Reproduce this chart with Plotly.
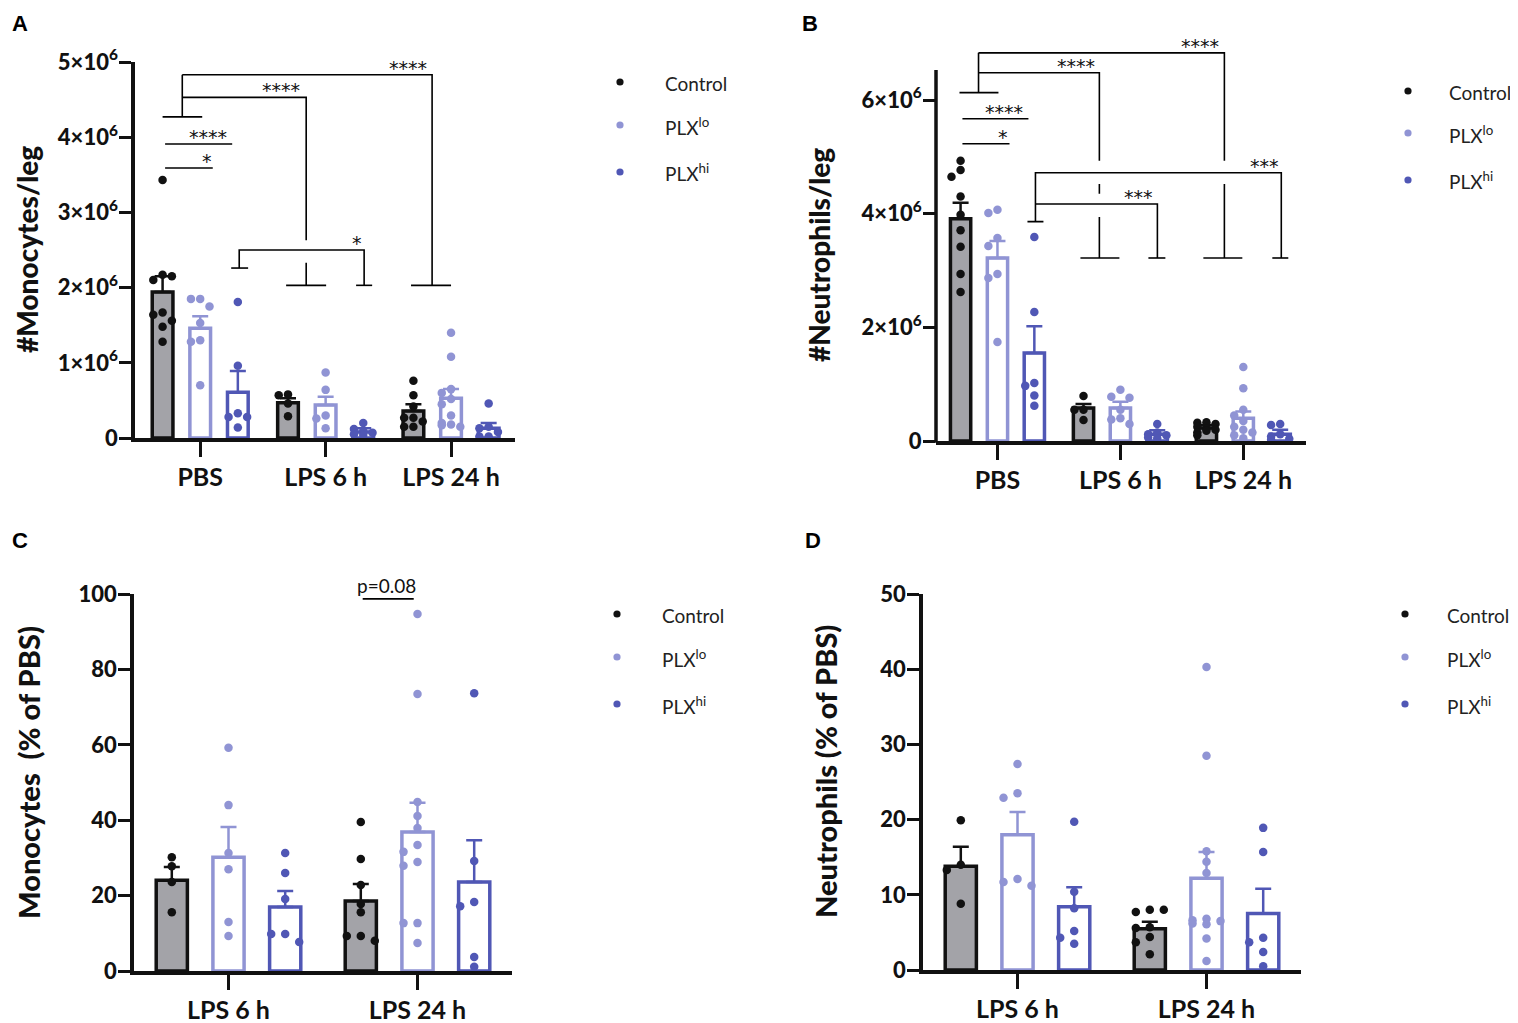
import numpy as np
import plotly.graph_objects as go

W, H = 1518, 1023
DX, DY = -8, -8   # page body margin shifts the figure by 8 px
FONT = 'Lato'
STAR_FONT = 'DejaVu Sans'

# ---- data (A, B in millions of cells; C, D in % of PBS) ----
conds = ['Control', 'PLX<sup>lo</sup>', 'PLX<sup>hi</sup>']
groups_ab = ['PBS', 'LPS 6 h', 'LPS 24 h']
groups_cd = ['LPS 6 h', 'LPS 24 h']

mono_mean = [[1.94, 0.47, 0.36], [1.46, 0.44, 0.53], [0.61, 0.08, 0.13]]
mono_sem = [[0.21, 0.06, 0.09], [0.16, 0.11, 0.12], [0.28, 0.05, 0.07]]
mono_pts = [
    [[3.43, 2.17, 2.10, 2.15, 1.67, 1.64, 1.56, 1.48, 1.28],
     [0.58, 0.57, 0.29, 0.46],
     [0.76, 0.57, 0.42, 0.27, 0.27, 0.15, 0.15, 0.22]],
    [[1.85, 1.85, 1.75, 1.53, 1.30, 1.28, 0.70],
     [0.87, 0.64, 0.30, 0.26, 0.13],
     [1.40, 1.08, 0.65, 0.60, 0.52, 0.45, 0.30, 0.20, 0.18, 0.15, 0.17]],
    [[1.81, 0.96, 0.33, 0.28, 0.28, 0.14],
     [0.20, 0.12, 0.09, 0.07, 0.05, 0.04],
     [0.46, 0.15, 0.13, 0.08, 0.02, 0.02]],
]

neut_mean = [[3.91, 0.58, 0.23], [3.22, 0.58, 0.40], [1.55, 0.12, 0.12]]
neut_sem = [[0.28, 0.07, 0.05], [0.30, 0.11, 0.12], [0.47, 0.07, 0.08]]
neut_pts = [
    [[4.93, 4.77, 4.65, 4.30, 3.98, 3.71, 3.42, 2.94, 2.62],
     [0.79, 0.55, 0.55, 0.37],
     [0.33, 0.32, 0.30, 0.25, 0.22, 0.20, 0.18, 0.15, 0.10]],
    [[4.07, 4.01, 3.57, 3.43, 2.94, 2.87, 1.74],
     [0.90, 0.78, 0.76, 0.55, 0.40, 0.38, 0.30],
     [1.30, 0.93, 0.55, 0.45, 0.35, 0.25, 0.20, 0.15, 0.10, 0.05]],
    [[3.59, 2.27, 1.02, 0.97, 0.80, 0.62],
     [0.30, 0.15, 0.12, 0.10, 0.06, 0.05],
     [0.30, 0.28, 0.12, 0.08, 0.04, 0.02]],
]

mono_pct_mean = [[24.1, 18.6], [30.2, 36.9], [17.0, 23.6]]
mono_pct_sem = [[3.5, 4.5], [8.0, 7.7], [4.2, 11.1]]
mono_pct_pts = [
    [[30.2, 27.8, 23.6, 15.6],
     [39.5, 29.7, 22.8, 17.8, 15.6, 9.3, 9.3, 8.0]],
    [[59.2, 44.0, 31.3, 27.0, 13.0, 9.3],
     [94.7, 73.5, 44.8, 41.1, 37.9, 33.4, 31.6, 28.9, 27.9, 12.7, 12.7, 7.4]],
    [[31.3, 26.0, 19.1, 9.8, 9.8, 7.7],
     [73.7, 29.2, 18.3, 17.2, 3.7, 1.1]],
]

neut_pct_mean = [[13.8, 5.5], [18.0, 12.2], [8.4, 7.5]]
neut_pct_sem = [[2.6, 0.9], [3.0, 3.5], [2.6, 3.3]]
neut_pct_pts = [
    [[19.9, 14.0, 13.3, 8.8],
     [8.0, 7.7, 8.0, 5.7, 5.6, 4.4, 3.7, 2.1]],
    [[27.4, 23.5, 22.9, 12.1, 11.7, 11.2],
     [40.3, 28.5, 15.8, 14.4, 12.9, 6.8, 6.6, 6.5, 6.2, 6.1, 4.2, 1.2]],
    [[19.7, 10.4, 8.2, 5.2, 4.3, 3.5],
     [18.9, 15.7, 4.3, 3.7, 2.4, 0.5]],
]

# significance brackets: polylines in (category, value) units + labels
brk_a = [
    [(-0.28, 3.59), (0.10, 3.59)],
    [(-0.28, 3.91), (0.255, 3.91)],
    [(-0.30, 4.27), (0.016, 4.27)],
    [(-0.143, 4.27), (-0.143, 4.83)],
    [(-0.143, 4.53), (0.845, 4.53), (0.845, 2.63)],
    [(-0.143, 4.83), (1.849, 4.83), (1.849, 2.03)],
    [(0.685, 2.03), (1.004, 2.03)],
    [(0.845, 2.03), (0.845, 2.33)],
    [(0.247, 2.26), (0.382, 2.26)],
    [(0.311, 2.26), (0.311, 2.50), (1.307, 2.50), (1.307, 2.03)],
    [(1.243, 2.03), (1.371, 2.03)],
    [(1.681, 2.03), (2.0, 2.03)],
]
# label x, line y under it, text
lab_a = [(0.056, 3.59, '*'), (0.064, 3.91, '****'), (0.645, 4.53, '****'),
         (1.657, 4.83, '****'), (1.25, 2.50, '*')]

brk_b = [
    [(-0.285, 5.23), (0.098, 5.23)],
    [(-0.285, 5.67), (0.252, 5.67)],
    [(-0.309, 6.13), (0.008, 6.13)],
    [(-0.154, 6.13), (-0.154, 6.83)],
    [(-0.154, 6.48), (0.829, 6.48), (0.829, 4.93)],
    [(0.829, 4.52), (0.829, 4.35)],
    [(0.829, 3.94), (0.829, 3.22)],
    [(0.675, 3.22), (0.992, 3.22)],
    [(-0.154, 6.83), (1.846, 6.83), (1.846, 4.93)],
    [(1.846, 4.52), (1.846, 3.22)],
    [(1.675, 3.22), (1.992, 3.22)],
    [(0.244, 3.86), (0.374, 3.86)],
    [(0.309, 3.86), (0.309, 4.72), (2.309, 4.72), (2.309, 3.22)],
    [(2.236, 3.22), (2.366, 3.22)],
    [(0.309, 4.17), (1.301, 4.17), (1.301, 3.22)],
    [(1.228, 3.22), (1.366, 3.22)],
]
lab_b = [(0.049, 5.23, '*'), (0.057, 5.67, '****'), (0.642, 6.48, '****'),
         (1.65, 6.83, '****'), (1.146, 4.17, '***'), (2.17, 4.72, '***')]

brk_c = [[(0.71, 98.7), (0.98, 98.7)]]
lab_c = [(0.836, 98.7, 'p=0.08')]

# ---- styling ----
fills = ['#a3a3a8', 'white', 'white']
edges = ['#111111', '#9094d4', '#5057b5']
dots = ['#111111', '#9094d4', '#5057b5']
offs = [-0.3, 0.0, 0.3]
BAR_W = 0.165
STEP = 0.074


def px2x(p):
    return (p + DX) / W


def px2y(p):
    return 1 - (p + DY) / H


def spread(vals, thr):
    # prism-like horizontal spreading of overlapping dots (kept inside the bar)
    placed, xs = [], []
    for v in vals:
        near = [o for pv, o in placed if abs(pv - v) < thr]
        free = [o for o in (0, -1, 1) if o not in near]
        o = free[0] if free else min((-1, 0, 1), key=near.count)
        placed.append((v, o))
        xs.append(o * STEP)
    return xs


fig = go.Figure()


def panel(n, means, sems, pts, scale, thr, brk, labs):
    sx = '' if n == 1 else str(n)
    xa, ya = 'x' + sx, 'y' + sx
    ng = len(means[0])
    for k in range(3):
        xs = [g + offs[k] for g in range(ng)]
        fig.add_trace(go.Bar(
            x=xs, y=[m * scale for m in means[k]], width=BAR_W,
            marker=dict(color=fills[k], line=dict(color=edges[k], width=3.5)),
            error_y=dict(type='data', symmetric=False,
                         array=[s * scale for s in sems[k]], arrayminus=[0] * ng,
                         color=edges[k], thickness=2.5, width=8),
            xaxis=xa, yaxis=ya, showlegend=False, hoverinfo='skip'))
    for k in range(3):
        px, py = [], []
        for g in range(ng):
            jit = spread(pts[k][g], thr)
            px += [g + offs[k] + j for j in jit]
            py += [v * scale for v in pts[k][g]]
        fig.add_trace(go.Scatter(
            x=px, y=py, mode='markers', cliponaxis=False,
            marker=dict(color=dots[k], size=8.5),
            xaxis=xa, yaxis=ya, showlegend=False))
    bx, by = [], []
    for seg in brk:
        bx += [p[0] for p in seg] + [None]
        by += [p[1] * scale for p in seg] + [None]
    if bx:
        fig.add_trace(go.Scatter(x=bx, y=by, mode='lines',
                                 line=dict(color='black', width=1.6),
                                 xaxis=xa, yaxis=ya, showlegend=False,
                                 hoverinfo='skip'))
    for x, y, t in labs:
        star = '*' in t
        fig.add_annotation(x=x, y=y * scale, xref=xa, yref=ya, text=t,
                           showarrow=False, yanchor='bottom',
                           yshift=-6 if star else 0,
                           font=dict(family=STAR_FONT if star else FONT,
                                     size=19, color='#111'))


panel(1, mono_mean, mono_sem, mono_pts, 1e6, 0.11, brk_a, lab_a)
panel(2, neut_mean, neut_sem, neut_pts, 1e6, 0.145, brk_b, lab_b)
panel(3, mono_pct_mean, mono_pct_sem, mono_pct_pts, 1, 2.2, brk_c, lab_c)
panel(4, neut_pct_mean, neut_pct_sem, neut_pct_pts, 1, 1.1, [], [])


tick_font = dict(family=FONT, size=22, color='#111', weight=900)
cat_font = dict(family=FONT, size=25, color='#111', weight='bold')
sup = lambda i: '0' if i == 0 else '%d×10<sup>6</sup>' % i

B_TOP = 441 - 7.1 * 341 / 6
# x left px, x right px, y zero px, y top px, range top, x range, cats, ticks
boxes = {
    1: (135, 515, 438, 62, 5e6, [-0.52, 2.51], groups_ab,
        [i * 1e6 for i in range(6)], [sup(i) for i in range(6)], True),
    2: (936, 1306, 441, B_TOP, 7.1e6, [-0.50, 2.51], groups_ab,
        [i * 1e6 for i in (0, 2, 4, 6)], [sup(i) for i in (0, 2, 4, 6)], False),
    3: (134, 512, 971, 594, 100, [-0.50, 1.50], groups_cd,
        list(range(0, 101, 20)), [str(v) for v in range(0, 101, 20)], True),
    4: (923, 1301, 970, 594, 50, [-0.50, 1.50], groups_cd,
        list(range(0, 51, 10)), [str(v) for v in range(0, 51, 10)], True),
}
lay = {}
for n, (xl, xr, y0, y1, rtop, xr_rng, cats, tv, tt, yline) in boxes.items():
    sx = '' if n == 1 else str(n)
    lay['xaxis' + sx] = dict(
        domain=[px2x(xl), px2x(xr)], range=xr_rng, anchor='y' + sx,
        tickvals=list(range(len(cats))), ticktext=cats,
        showline=True, linewidth=3.5, linecolor='#111',
        ticks='outside', ticklen=15, tickwidth=3, tickcolor='#111',
        tickfont=cat_font, ticklabelstandoff=-1, automargin=False,
        showgrid=False, zeroline=False, fixedrange=True)
    lay['yaxis' + sx] = dict(
        domain=[px2y(y0), px2y(y1)], range=[0, rtop], anchor='x' + sx,
        tickvals=tv, ticktext=tt, showline=yline, linewidth=3.5,
        linecolor='#111', ticks='outside', ticklen=12, tickwidth=3,
        tickcolor='#111', tickfont=tick_font, ticklabelstandoff=-3,
        automargin=False, showgrid=False, zeroline=False, fixedrange=True)

fig.update_layout(**lay)

shapes = []
# panel B axis line stops at 6.53×10^6 (brackets run above it)
bxl, _, by0, _ = boxes[2][:4]
shapes.append(dict(type='line', xref='paper', yref='paper',
                   x0=px2x(bxl), x1=px2x(bxl),
                   y0=px2y(by0 + 1.75), y1=px2y(by0 - 6.53 * 341 / 6),
                   line=dict(color='#111', width=3.5)))

# legends (dot + label) for each panel
leg_pos = [(620, 663, [82, 125, 172]), (1408, 1447, [91, 133, 180]),
           (617, 660, [614, 657, 704]), (1405, 1445, [614, 657, 704])]
annots = []
for dx, tx, ys in leg_pos:
    for k, yy in enumerate(ys):
        r = 3.6
        shapes.append(dict(type='circle', xref='paper', yref='paper',
                           x0=px2x(dx - r), x1=px2x(dx + r),
                           y0=px2y(yy + r), y1=px2y(yy - r),
                           fillcolor=dots[k], line=dict(width=0)))
        annots.append(dict(x=px2x(tx), y=px2y(yy + 1), xref='paper', yref='paper',
                           xanchor='left', yanchor='middle', showarrow=False,
                           text=conds[k],
                           font=dict(family=FONT, size=19, color='#222')))

# y-axis titles
titles = [(27, 250, '#Monocytes/leg', 28), (819, 255, '#Neutrophils/leg', 28),
          (28, 773, 'Monocytes\u00a0 (% of PBS)', 29),
          (825, 772, 'Neutrophils (% of PBS)', 29)]
for x, y, t, fs in titles:
    annots.append(dict(x=px2x(x), y=px2y(y), xref='paper', yref='paper',
                       xanchor='center', yanchor='middle', textangle=-90,
                       showarrow=False, text=t,
                       font=dict(family=FONT, size=fs, color='#111', weight=900)))

# panel letters
for x, y, t in [(20, 24, 'A'), (810, 24, 'B'), (20, 540, 'C'), (813, 540, 'D')]:
    annots.append(dict(x=px2x(x), y=px2y(y), xref='paper', yref='paper',
                       xanchor='center', yanchor='middle', showarrow=False, text=t,
                       font=dict(family='Liberation Sans', size=22, color='#000',
                                 weight='bold')))

fig.update_layout(
    width=W, height=H, margin=dict(l=0, r=0, t=0, b=0, autoexpand=False),
    paper_bgcolor='white', plot_bgcolor='white', barmode='overlay',
    shapes=shapes, annotations=list(fig.layout.annotations) + annots,
    showlegend=False)

fig.write_html('out.html')
